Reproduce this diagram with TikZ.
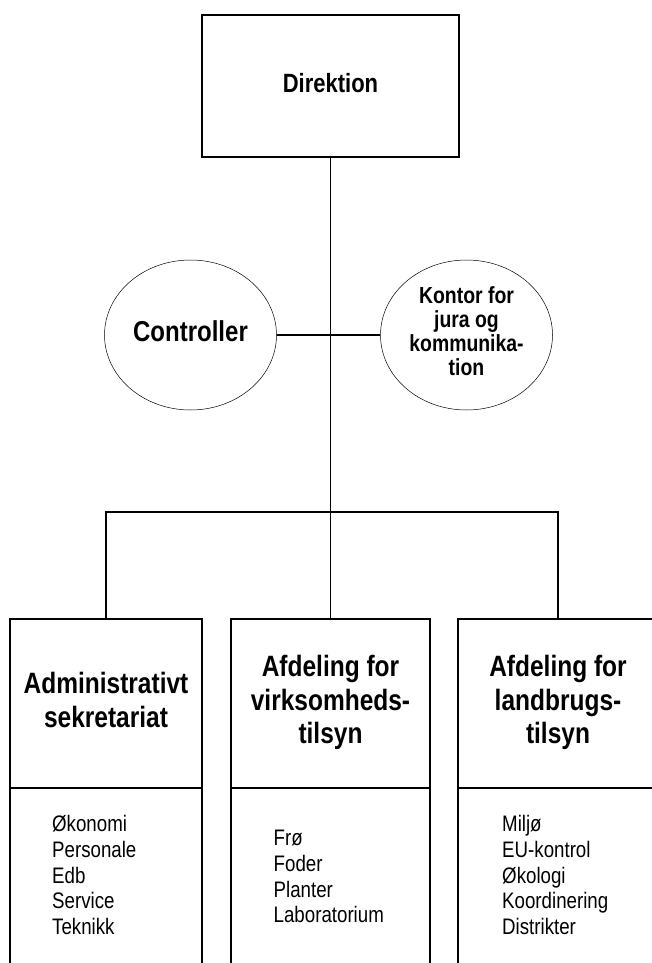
\documentclass[tikz,border=0pt]{standalone}
\usepackage{fontspec}
\setmainfont{Liberation Sans}
\usepackage{graphicx}
\usetikzlibrary{shapes.geometric}
\newcommand{\tall}[1]{\scalebox{1}[1.2]{\begin{tabular}{@{}c@{}}#1\end{tabular}}}
\newcommand{\tallLeft}[1]{\scalebox{1}[1.2]{\begin{tabular}{@{}l@{}}#1\end{tabular}}}

\begin{document}
\begin{tikzpicture}[x=1pt,y=-1pt]
	\tikzset{box/.style = {rectangle,draw,line width=1.1pt,inner sep=0pt}}
	\tikzset{staff/.style = {ellipse,draw,line width=0.5pt,inner sep=0pt,minimum width=172pt,minimum height=150pt}}
	\tikzstyle{edge} = [line width=1.1pt]
	\tikzstyle{head} = [font=\fontsize{24.5}{28}\selectfont\bfseries,minimum height=169pt]
	\tikzstyle{items} = [anchor=west,inner sep=0pt,font=\fontsize{18.7}{21.5}\selectfont]
	\useasboundingbox (0,0) rectangle (652,963);
	\clip (0,0) rectangle (652,963);
	%Direktion
	\node[box,minimum width=257pt,minimum height=142pt,font=\fontsize{22}{26}\selectfont\bfseries] (dir) at (330.5,86) {\tall{Direktion}};
	%staff
	\node[staff,font=\fontsize{24}{28}\selectfont\bfseries] (ctrl) at (190.5,335) {\tall{Controller}};
	\node[staff,font=\fontsize{19.4}{20}\selectfont\bfseries] (jura) at (466.5,335) {\tall{Kontor for\\jura og\\kommunika-\\tion}};
	%departments
	\node[box,head,minimum width=192pt] (adm) at (106,703.5) {\tall{Administrativt\\sekretariat}};
	\node[box,head,minimum width=199pt] (virk) at (330.5,703.5) {\tall{Afdeling for\\virksomheds-\\tilsyn}};
	\node[box,head,minimum width=200pt] (land) at (558,703.5) {\tall{Afdeling for\\landbrugs-\\tilsyn}};
	\node[box,minimum width=192pt,minimum height=212pt] (admBox) at (106,894) {};
	\node[box,minimum width=199pt,minimum height=212pt] (virkBox) at (330.5,894) {};
	\node[box,minimum width=200pt,minimum height=212pt] (landBox) at (558,894) {};
	%tasks
	\node[items] (admItems) at (52,878) {\tallLeft{Økonomi\\Personale\\Edb\\Service\\Teknikk}};
	\node[items] (virkItems) at (273.5,879) {\tallLeft{Frø\\Foder\\Planter\\Laboratorium}};
	\node[items] (landItems) at (502,878) {\tallLeft{Miljø\\EU-kontrol\\Økologi\\Koordinering\\Distrikter}};
	%lines
	\coordinate (bar) at (330.5,512);
	\draw[edge] (dir.south) -- (virk.north);
	\draw[edge] (ctrl.east) -- (jura.west);
	\draw[edge] (adm.north) |- (bar) -| (land.north);
\end{tikzpicture}
\end{document}
